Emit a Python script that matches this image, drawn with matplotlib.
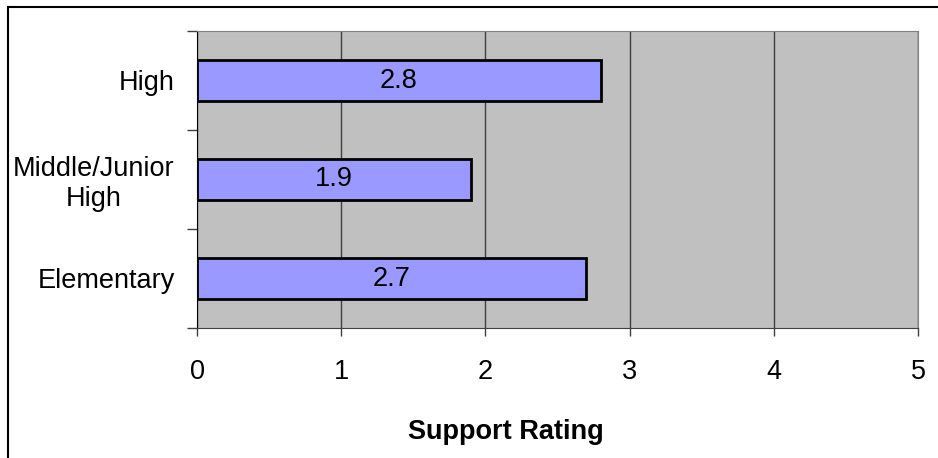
import matplotlib
matplotlib.use("Agg")
import matplotlib.pyplot as plt
from matplotlib.lines import Line2D

categories = ["Elementary", "Middle/Junior\nHigh", "High"]
values = [2.7, 1.9, 2.8]
value_labels = ["2.7", "1.9", "2.8"]
xticks = [0, 1, 2, 3, 4, 5]

plt.rcParams['font.family'] = ['Liberation Sans', 'DejaVu Sans']

fig = plt.figure(figsize=(9.38, 4.58), dpi=100)
ax = fig.add_axes([197/938, 1 - 328/458, (918-197)/938, (328-31)/458])
ax.set_facecolor('#C0C0C0')

ypos = list(range(len(categories)))
ax.barh(ypos, values, height=0.41, color='#9999FF', edgecolor='black', linewidth=2, zorder=3)
for y, v, lab in zip(ypos, values, value_labels):
    ax.text(v / 2, y, lab, ha='center', va='center', fontsize=19.5, zorder=4)

ax.set_xlim(0, 5)
ax.set_ylim(-0.5, 2.5)
ax.set_xticks(xticks)
ax.set_xticklabels([str(t) for t in xticks], fontsize=19.5)
ax.set_yticks(ypos)
ax.set_yticklabels(categories, fontsize=19.5, ha='right', multialignment='center')
ax.tick_params(axis='y', which='major', length=0, pad=16)
ax.set_yticks([-0.5, 0.5, 1.5, 2.5], minor=True)
ax.tick_params(axis='y', which='minor', length=7, width=1, direction='out', color='#404040')
ax.tick_params(axis='x', length=6, width=1, direction='out', color='#404040', pad=16)
ax.xaxis.grid(True, color='#404040', linewidth=1)
ax.set_axisbelow(True)
for s in ['top', 'right']:
    ax.spines[s].set_color('#808080')
ax.spines['left'].set_color('black')
ax.spines['bottom'].set_color('#404040')

fig.text(506/938, 1 - 432/458, 'Support Rating', fontsize=19.5, fontweight='bold',
         ha='center', va='center')

# figure border (top and left visible)
fig.add_artist(Line2D([8/938, 8/938], [0, 1 - 7/458], color='black', linewidth=1.5, transform=fig.transFigure))
fig.add_artist(Line2D([8/938, 1], [1 - 7/458, 1 - 7/458], color='black', linewidth=1.5, transform=fig.transFigure))

fig.savefig('out.png', dpi=100)
